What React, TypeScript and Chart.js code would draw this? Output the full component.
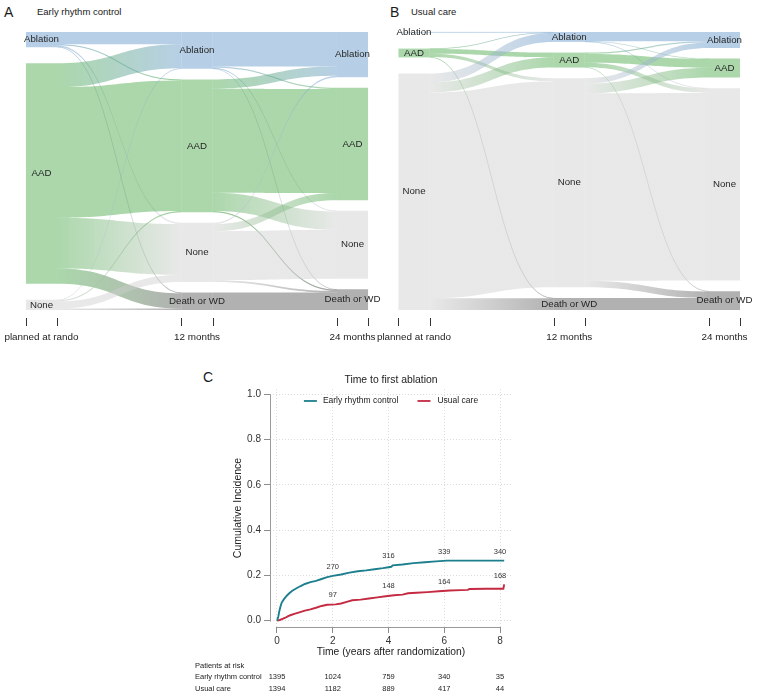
import React, { useEffect, useRef } from "react";
import { Chart, registerables } from "chart.js";

Chart.register(...registerables);

const FONT = "'Liberation Sans', Arial, Helvetica, sans-serif";
Chart.defaults.font.family = FONT;

// ---------------- Panels A & B : treatment state flows ----------------
const stageLabels = ["planned at rando", "12 months", "24 months"];
const stateNames = ["Ablation", "AAD", "None", "Death or WD"];
const stateColors = [
  "rgba(112,160,206,0.5)",
  "rgba(76,170,76,0.47)",
  "rgba(205,205,205,0.45)",
  "rgba(100,100,100,0.5)",
];

// rows = state at earlier stage, columns = state at later stage (patients)
const earlyRandoTo12 = [
  [70, 5, 8, 4],
  [135, 741, 287, 87],
  [4, 6, 40, 8],
  [0, 0, 0, 0],
];
const early12To24 = [
  [196, 7, 4, 2],
  [52, 590, 104, 6],
  [8, 40, 277, 10],
  [0, 0, 0, 99],
];
const usualRandoTo12 = [
  [3, 0, 0, 0],
  [2, 28, 18, 2],
  [51, 57, 1167, 66],
  [0, 0, 0, 0],
];
const usual12To24 = [
  [52, 2, 2, 0],
  [8, 50, 25, 2],
  [30, 55, 1063, 37],
  [0, 0, 0, 68],
];

const columnSpan = 1576; // vertical extent of a column in patient units (nodes + gaps)
const nodeWidthFraction = 0.2;

// ---------------- Panel C : time to first ablation ----------------
const earlyTimes = [0, 0.02, 0.05, 0.08, 0.12, 0.17, 0.25, 0.35, 0.45, 0.55, 0.7, 0.85, 1.0, 1.2, 1.4, 1.6, 1.8, 2.0, 2.3, 2.6, 2.9, 3.2, 3.5, 3.8, 4.0, 4.1, 4.15, 4.5, 4.9, 5.3, 5.7, 6.1, 8.15];
const earlyCumInc = [0, 0.006, 0.02, 0.04, 0.06, 0.08, 0.095, 0.11, 0.122, 0.132, 0.143, 0.153, 0.162, 0.17, 0.176, 0.184, 0.192, 0.198, 0.204, 0.212, 0.218, 0.222, 0.227, 0.232, 0.236, 0.238, 0.244, 0.248, 0.254, 0.258, 0.262, 0.265, 0.265];
const usualTimes = [0, 0.1, 0.2, 0.3, 0.4, 0.5, 0.65, 0.8, 1.0, 1.2, 1.4, 1.6, 1.8, 2.1, 2.3, 2.5, 2.7, 3.0, 3.3, 3.6, 3.9, 4.2, 4.5, 4.7, 5.0, 5.4, 5.8, 6.2, 6.6, 6.85, 6.9, 7.5, 8.12, 8.15];
const usualCumInc = [0, 0.003, 0.008, 0.013, 0.02, 0.025, 0.031, 0.037, 0.044, 0.05, 0.057, 0.065, 0.07, 0.072, 0.076, 0.083, 0.09, 0.093, 0.098, 0.103, 0.108, 0.112, 0.115, 0.121, 0.123, 0.126, 0.13, 0.133, 0.135, 0.136, 0.14, 0.141, 0.141, 0.16];
const xTickYears = [0, 2, 4, 6, 8];
const yTickValues = [0, 0.2, 0.4, 0.6, 0.8, 1.0];
const eventTimes = [2, 4, 6, 8];
const eventsEarly = [270, 316, 339, 340];
const eventsUsual = [97, 148, 164, 168];
const riskEarly = [1395, 1024, 759, 340, 35];
const riskUsual = [1394, 1182, 889, 417, 44];
const seriesNames = ["Early rhythm control", "Usual care"];
const TEAL = "#1d7f8e";
const RED = "#c42a42";

type SNode = [number, number] | null;
interface Flow { col: number; src: number; tgt: number; s0: number; s1: number; t0: number; t1: number; }

function layoutSankey(transitions: number[][][]) {
  const nCols = transitions.length + 1;
  const totals: number[][] = [];
  for (let c = 0; c < nCols; c++) {
    totals.push(
      stateNames.map((_, s) =>
        c < transitions.length
          ? transitions[c][s].reduce((a, b) => a + b, 0)
          : transitions[c - 1].reduce((a, row) => a + row[s], 0)
      )
    );
  }
  const nodes: SNode[][] = totals.map((col) => {
    const present = col.map((v, i) => ({ v, i })).filter((d) => d.v > 0);
    const sum = present.reduce((a, d) => a + d.v, 0);
    const gap = present.length > 1 ? (columnSpan - sum) / (present.length - 1) : 0;
    const out: SNode[] = col.map(() => null);
    let y = 0;
    present.forEach((d) => {
      out[d.i] = [y, y + d.v];
      y += d.v + gap;
    });
    return out;
  });
  const flows: Flow[] = [];
  transitions.forEach((m, c) => {
    const outOff = stateNames.map(() => 0);
    const inOff = stateNames.map(() => 0);
    m.forEach((row, s) =>
      row.forEach((v, t) => {
        if (v <= 0) return;
        const sn = nodes[c][s] as [number, number];
        const tn = nodes[c + 1][t] as [number, number];
        flows.push({
          col: c, src: s, tgt: t,
          s0: sn[0] + outOff[s], s1: sn[0] + outOff[s] + v,
          t0: tn[0] + inOff[t], t1: tn[0] + inOff[t] + v,
        });
        outOff[s] += v;
        inOff[t] += v;
      })
    );
  });
  return { nodes, flows };
}

function SankeyPanel(props: { transitions: number[][][]; left: number; width: number; height: number; padding: any }) {
  const ref = useRef<HTMLCanvasElement>(null);
  useEffect(() => {
    const layout = layoutSankey(props.transitions);
    const halfWidth = (chart: any) => {
      const x = chart.scales.x;
      return ((x.getPixelForValue(1) - x.getPixelForValue(0)) * nodeWidthFraction) / 2;
    };
    const plugin = {
      id: "sankeyFlows",
      beforeDatasetsDraw(chart: any) {
        const { ctx } = chart;
        const x = chart.scales.x;
        const y = chart.scales.y;
        const half = halfWidth(chart);
        ctx.save();
        for (const f of layout.flows) {
          const x0 = x.getPixelForValue(f.col) + half;
          const x1 = x.getPixelForValue(f.col + 1) - half;
          const xm = (x0 + x1) / 2;
          const s0 = y.getPixelForValue(f.s0), s1 = y.getPixelForValue(f.s1);
          const t0 = y.getPixelForValue(f.t0), t1 = y.getPixelForValue(f.t1);
          const g = ctx.createLinearGradient(x0, 0, x1, 0);
          g.addColorStop(0, stateColors[f.src]);
          g.addColorStop(1, stateColors[f.tgt]);
          ctx.beginPath();
          ctx.moveTo(x0, s0);
          ctx.bezierCurveTo(xm, s0, xm, t0, x1, t0);
          ctx.lineTo(x1, t1);
          ctx.bezierCurveTo(xm, t1, xm, s1, x0, s1);
          ctx.closePath();
          ctx.fillStyle = g;
          ctx.fill();
          if (Math.abs(s1 - s0) < 1.2) {
            const sc = (s0 + s1) / 2, tc = (t0 + t1) / 2;
            ctx.globalAlpha = 0.55;
            ctx.beginPath();
            ctx.moveTo(x0, sc);
            ctx.bezierCurveTo(xm, sc, xm, tc, x1, tc);
            ctx.strokeStyle = g;
            ctx.lineWidth = 0.8;
            ctx.stroke();
            ctx.globalAlpha = 1;
          }
        }
        ctx.restore();
      },
      afterDatasetsDraw(chart: any) {
        const { ctx } = chart;
        const x = chart.scales.x;
        const y = chart.scales.y;
        ctx.save();
        ctx.font = `9.7px ${FONT}`;
        ctx.fillStyle = "#262626";
        ctx.textAlign = "center";
        ctx.textBaseline = "middle";
        layout.nodes.forEach((col, c) => {
          col.forEach((n, s) => {
            if (!n) return;
            const cy = (y.getPixelForValue(n[0]) + y.getPixelForValue(n[1])) / 2;
            ctx.fillText(stateNames[s], x.getPixelForValue(c), cy);
          });
        });
        ctx.restore();
      },
      afterDraw(chart: any) {
        const { ctx, chartArea } = chart;
        const x = chart.scales.x;
        const half = halfWidth(chart);
        ctx.save();
        ctx.strokeStyle = "#333";
        ctx.lineWidth = 1;
        ctx.font = `9.9px ${FONT}`;
        ctx.fillStyle = "#222";
        ctx.textAlign = "center";
        ctx.textBaseline = "middle";
        stageLabels.forEach((lab, c) => {
          const cx = x.getPixelForValue(c);
          [cx - half, cx + half].forEach((px) => {
            const p = Math.round(px) + 0.5;
            ctx.beginPath();
            ctx.moveTo(p, chartArea.bottom + 8);
            ctx.lineTo(p, chartArea.bottom + 16);
            ctx.stroke();
          });
          ctx.fillText(lab, cx, chartArea.bottom + 27);
        });
        ctx.restore();
      },
    };
    const chart = new Chart(ref.current as HTMLCanvasElement, {
      type: "bar",
      data: {
        labels: stageLabels,
        datasets: stateNames.map((name, s) => ({
          label: name,
          data: layout.nodes.map((col) => col[s]) as any,
          backgroundColor: stateColors[s],
          borderWidth: 0,
          inflateAmount: 0,
          grouped: false,
          categoryPercentage: nodeWidthFraction,
          barPercentage: 1,
          clip: false as any,
        })),
      },
      options: {
        responsive: false,
        animation: false,
        events: [],
        layout: { padding: props.padding },
        plugins: { legend: { display: false }, tooltip: { enabled: false }, title: { display: false } },
        scales: {
          x: { type: "category", offset: false, display: false, grid: { offset: false } },
          y: { type: "linear", min: 0, max: columnSpan, reverse: true, display: false },
        },
      } as any,
      plugins: [plugin],
    });
    return () => chart.destroy();
  }, []);
  return (
    <canvas
      ref={ref}
      width={props.width}
      height={props.height}
      style={{ position: "absolute", left: props.left, top: 0, width: props.width, height: props.height }}
    />
  );
}

function stepValueNear(times: number[], vals: number[], t: number) {
  let best = 0;
  for (let i = 0; i < times.length; i++) {
    if (times[i] <= t + 0.25) best = Math.max(best, vals[i]);
  }
  return best;
}

function IncidencePanel() {
  const ref = useRef<HTMLCanvasElement>(null);
  useEffect(() => {
    const plugin = {
      id: "ciExtras",
      afterDraw(chart: any) {
        const { ctx, chartArea } = chart;
        const x = chart.scales.x;
        const y = chart.scales.y;
        ctx.save();
        // capped axis lines
        ctx.strokeStyle = "#9a9a9a";
        ctx.lineWidth = 1;
        const ax = Math.round(chartArea.left) + 0.5;
        ctx.beginPath();
        ctx.moveTo(ax, y.getPixelForValue(1));
        ctx.lineTo(ax, y.getPixelForValue(0) + 1);
        ctx.stroke();
        const ay = Math.round(chartArea.bottom) + 0.5;
        ctx.beginPath();
        ctx.moveTo(x.getPixelForValue(0), ay);
        ctx.lineTo(x.getPixelForValue(8), ay);
        ctx.stroke();

        // legend inside the panel
        ctx.font = `8.5px ${FONT}`;
        ctx.textBaseline = "middle";
        ctx.textAlign = "left";
        const w0 = ctx.measureText(seriesNames[0]).width;
        const w1 = ctx.measureText(seriesNames[1]).width;
        const total = 13 + 6 + w0 + 19 + 13 + 7 + w1;
        let lx = (chartArea.left + chartArea.right) / 2 - total / 2;
        const ly = chartArea.top + 12;
        const colors = [TEAL, RED];
        [w0, w1].forEach((w, i) => {
          ctx.strokeStyle = colors[i];
          ctx.lineWidth = 1.8;
          ctx.beginPath();
          ctx.moveTo(lx, ly);
          ctx.lineTo(lx + 13, ly);
          ctx.stroke();
          lx += 13 + (i === 0 ? 6 : 7);
          ctx.fillStyle = "#222";
          ctx.fillText(seriesNames[i], lx, ly);
          lx += w + 19;
        });

        // number of events above curves
        ctx.font = `7.5px ${FONT}`;
        ctx.textAlign = "center";
        ctx.fillStyle = "#333";
        eventTimes.forEach((t, i) => {
          const px = x.getPixelForValue(t);
          ctx.fillText(String(eventsEarly[i]), px, y.getPixelForValue(stepValueNear(earlyTimes, earlyCumInc, t)) - 9);
          ctx.fillText(String(eventsUsual[i]), px, y.getPixelForValue(stepValueNear(usualTimes, usualCumInc, t)) - 9);
        });

        // patients at risk table
        const tx = chartArea.left - 75;
        ctx.textAlign = "left";
        ctx.fillStyle = "#222";
        ctx.fillText("Patients at risk", tx, chartArea.bottom + 39);
        ctx.fillText(seriesNames[0], tx, chartArea.bottom + 50.3);
        ctx.fillText(seriesNames[1], tx, chartArea.bottom + 61.7);
        ctx.textAlign = "center";
        xTickYears.forEach((t, i) => {
          const px = x.getPixelForValue(t);
          ctx.fillText(String(riskEarly[i]), px, chartArea.bottom + 50.3);
          ctx.fillText(String(riskUsual[i]), px, chartArea.bottom + 61.7);
        });
        ctx.restore();
      },
    };
    const gridCommon = {
      color: "#dcdcdc",
      lineWidth: 1,
      drawTicks: true,
      tickLength: 6,
      tickColor: "#8c8c8c",
      tickWidth: 1,
      tickBorderDash: [],
    };
    const chart = new Chart(ref.current as HTMLCanvasElement, {
      type: "line",
      data: {
        datasets: [
          {
            label: seriesNames[0],
            data: earlyTimes.map((t, i) => ({ x: t, y: earlyCumInc[i] })),
            borderColor: TEAL,
            backgroundColor: TEAL,
            borderWidth: 1.9,
            pointRadius: 0,
            tension: 0,
            fill: false,
          },
          {
            label: seriesNames[1],
            data: usualTimes.map((t, i) => ({ x: t, y: usualCumInc[i] })),
            borderColor: RED,
            backgroundColor: RED,
            borderWidth: 1.9,
            pointRadius: 0,
            tension: 0,
            fill: false,
          },
        ],
      },
      options: {
        responsive: false,
        animation: false,
        events: [],
        layout: { padding: { left: 52, right: 128, top: 13.8, bottom: 36 } },
        plugins: {
          legend: { display: false },
          tooltip: { enabled: false },
          title: {
            display: true,
            text: "Time to first ablation",
            fullSize: false,
            color: "#222",
            font: { size: 10.4, weight: "normal", family: FONT },
            padding: { top: 0, bottom: 2.7 },
          },
        },
        scales: {
          x: {
            type: "linear",
            min: -0.251,
            max: 8.43,
            afterBuildTicks: (s: any) => {
              s.ticks = xTickYears.map((v) => ({ value: v }));
            },
            afterFit: (s: any) => {
              s.height = 31;
            },
            grid: gridCommon,
            border: { display: false, dash: [1, 2] },
            ticks: { color: "#333", font: { size: 10 }, padding: 2, maxRotation: 0, autoSkip: false, callback: (v: any) => String(v) },
            title: { display: true, text: "Time (years after randomization)", color: "#222", font: { size: 10.3 }, padding: 0 },
          },
          y: {
            type: "linear",
            min: -0.028,
            max: 1.0234,
            afterBuildTicks: (s: any) => {
              s.ticks = yTickValues.map((v) => ({ value: v }));
            },
            afterFit: (s: any) => {
              s.width = 38;
            },
            grid: gridCommon,
            border: { display: false, dash: [1, 2] },
            ticks: { color: "#333", font: { size: 10 }, padding: 3, autoSkip: false, callback: (v: any) => Number(v).toFixed(1) },
            title: { display: true, text: "Cumulative Incidence", color: "#222", font: { size: 10.5 }, padding: 0 },
          },
        },
      } as any,
      plugins: [plugin],
    });
    return () => chart.destroy();
  }, []);
  return <canvas ref={ref} width={460} height={334} style={{ position: "absolute", left: 180, top: 360, width: 460, height: 334 }} />;
}

export default function App() {
  const big = { position: "absolute" as const, fontSize: 14, lineHeight: "14px", whiteSpace: "nowrap" as const };
  const small = { position: "absolute" as const, fontSize: 9.5, lineHeight: "9.5px", whiteSpace: "nowrap" as const };
  return (
    <div style={{ position: "absolute", left: 0, top: 0, width: 760, height: 694, background: "#fff", fontFamily: FONT, color: "#1a1a1a", overflow: "hidden" }}>
      <div style={{ ...big, left: 4, top: 5 }}>A</div>
      <div style={{ ...small, left: 37, top: 7 }}>Early rhythm control</div>
      <div style={{ ...big, left: 390, top: 5 }}>B</div>
      <div style={{ ...small, left: 411, top: 7 }}>Usual care</div>
      <div style={{ ...big, left: 203, top: 370 }}>C</div>
      <SankeyPanel transitions={[earlyRandoTo12, early12To24]} left={0} width={380} height={345} padding={{ left: 41.5, right: 27.5, top: 32, bottom: 35 }} />
      <SankeyPanel transitions={[usualRandoTo12, usual12To24]} left={372} width={388} height={345} padding={{ left: 42, right: 35.5, top: 32, bottom: 35 }} />
      <IncidencePanel />
    </div>
  );
}
